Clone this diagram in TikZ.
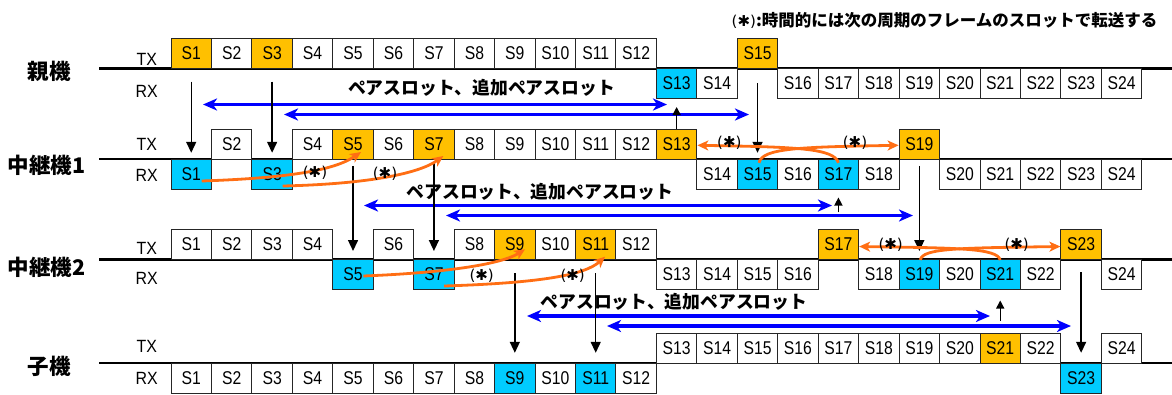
\documentclass[tikz,border=0pt]{standalone}
\usepackage{fontspec}
\setmainfont{Liberation Sans}
\newfontfamily\slotfont{Liberation Sans}[FakeStretch=0.85]
\newfontfamily\trxfont{Liberation Sans}[FakeStretch=0.9]
\newfontfamily\jpfont{Noto Sans CJK JP}
\newfontfamily\djvfont{DejaVu Sans}
\usetikzlibrary{arrows.meta}
\definecolor{gold}{RGB}{255,192,0}
\definecolor{sky}{RGB}{0,204,255}
\definecolor{orng}{RGB}{255,110,20}
\definecolor{pblue}{RGB}{0,0,255}
\tikzset{
  slot/.style={draw=black!85, line width=1pt, minimum width=40.45pt, minimum height=30pt, inner sep=0pt, font=\slotfont\fontsize{18.5}{19}\selectfont},
  base/.style={draw=black, line width=2.2pt},
  trx/.style={inner sep=0pt, font=\trxfont\fontsize{17.7}{18}\selectfont},
  rowlab/.style={inner sep=0pt, font=\jpfont\bfseries\fontsize{21.5}{24}\selectfont},
  pairlab/.style={inner sep=0pt, font=\jpfont\bfseries\fontsize{17.8}{20}\selectfont},
  ast/.style={inner sep=0pt, font=\djvfont\fontsize{15}{16}\selectfont},
  down/.style={draw=black, line width=1.4pt, -{Triangle[length=11pt,width=10pt]}},
  upar/.style={draw=black, line width=1.4pt, -{Triangle[length=8pt,width=8pt]}},
  pair/.style={draw=pblue, line width=3.5pt, {Stealth[length=14pt,width=12pt,inset=4pt]}-{Stealth[length=14pt,width=12pt,inset=4pt]}},
  fwd/.style={draw=orng, line width=2.8pt, -{Stealth[length=11pt,width=10pt,inset=3pt]}},
}
\begin{document}
\begin{tikzpicture}[x=1pt,y=-1pt]
\useasboundingbox (0,0) rectangle (1172,394);

% baselines
\draw[base] (99,68.5) -- (1172,68.5);
\draw[base] (99,159.3) -- (1172,159.3);
\draw[base] (99,259.5) -- (1172,259.5);
\draw[base] (99,363.3) -- (1172,363.3);

% row labels
\node[rowlab] (lab-a) at (49.3,71.7) {親機};
\node[rowlab] (lab-b) at (46.5,165) {中継機1};
\node[rowlab] (lab-c) at (46.5,267.3) {中継機2};
\node[rowlab] (lab-d) at (49.3,366.5) {子機};

\node[trx] (tx-a) at (146.7,59.3) {TX};
\node[trx] (rx-a) at (146.7,91.7) {RX};
\node[trx] (tx-b) at (146.7,144.3) {TX};
\node[trx] (rx-b) at (146.7,175) {RX};
\node[trx] (tx-c) at (146.7,248.3) {TX};
\node[trx] (rx-c) at (146.7,278.3) {RX};
\node[trx] (tx-d) at (146.7,346.7) {TX};
\node[trx] (rx-d) at (146.7,378.3) {RX};

% 親機
\foreach \n/\f in {1/gold,2/white,3/gold,4/white,5/white,6/white,7/white,8/white,9/white,10/white,11/white,12/white,15/gold}
  \node[slot,fill=\f] (a-tx-\n) at ({171+(\n-0.5)*40.45},53.5) {S\n};
\foreach \n/\f in {13/sky,14/white,16/white,17/white,18/white,19/white,20/white,21/white,22/white,23/white,24/white}
  \node[slot,fill=\f] (a-rx-\n) at ({171+(\n-0.5)*40.45},83.5) {S\n};
% 中継機1
\foreach \n/\f in {2/white,4/white,5/gold,6/white,7/gold,8/white,9/white,10/white,11/white,12/white,13/gold,19/gold}
  \node[slot,fill=\f] (b-tx-\n) at ({171+(\n-0.5)*40.45},144.3) {S\n};
\foreach \n/\f in {1/sky,3/sky,14/white,15/sky,16/white,17/sky,18/white,20/white,21/white,22/white,23/white,24/white}
  \node[slot,fill=\f] (b-rx-\n) at ({171+(\n-0.5)*40.45},174.3) {S\n};
% 中継機2
\foreach \n/\f in {1/white,2/white,3/white,4/white,6/white,8/white,9/gold,10/white,11/gold,12/white,17/gold,23/gold}
  \node[slot,fill=\f] (c-tx-\n) at ({171+(\n-0.5)*40.45},244.5) {S\n};
\foreach \n/\f in {5/sky,7/sky,13/white,14/white,15/white,16/white,18/white,19/sky,20/white,21/sky,22/white,24/white}
  \node[slot,fill=\f] (c-rx-\n) at ({171+(\n-0.5)*40.45},274.5) {S\n};
% 子機
\foreach \n/\f in {13/white,14/white,15/white,16/white,17/white,18/white,19/white,20/white,21/gold,22/white,24/white}
  \node[slot,fill=\f] (d-tx-\n) at ({171+(\n-0.5)*40.45},348.3) {S\n};
\foreach \n/\f in {1/white,2/white,3/white,4/white,5/white,6/white,7/white,8/white,9/sky,10/white,11/sky,12/white,23/sky}
  \node[slot,fill=\f] (d-rx-\n) at ({171+(\n-0.5)*40.45},378.3) {S\n};

% top note
\node[inner sep=0pt, anchor=east] (note) at (1157.5,20) {{\djvfont\fontsize{15}{16}\selectfont(✱)}{\jpfont\bfseries\fontsize{16.5}{18}\selectfont :時間的には次の周期のフレームのスロットで転送する}};

% pair slot labels
\node[pairlab] (pl-1) at (481.5,88.3) {ペアスロット、追加ペアスロット};
\node[pairlab] (pl-2) at (540,191.7) {ペアスロット、追加ペアスロット};
\node[pairlab] (pl-3) at (674,302) {ペアスロット、追加ペアスロット};

% blue pair arrows
\coordinate (p1a) at (203,104.5);  \coordinate (p1b) at (667,104.5);
\coordinate (p2a) at (284,114.5);  \coordinate (p2b) at (749,114.5);
\coordinate (p3a) at (364,205.5);  \coordinate (p3b) at (832,205.5);
\coordinate (p4a) at (446,215.5);  \coordinate (p4b) at (913,215.5);
\coordinate (p5a) at (527,316);    \coordinate (p5b) at (990,316);
\coordinate (p6a) at (607,326);    \coordinate (p6b) at (1071,326);
\draw[pair] (p1a) -- (p1b);
\draw[pair] (p2a) -- (p2b);
\draw[pair] (p3a) -- (p3b);
\draw[pair] (p4a) -- (p4b);
\draw[pair] (p5a) -- (p5b);
\draw[pair] (p6a) -- (p6b);

% black down arrows
\draw[down] ([yshift=-12.5pt]a-tx-1.south) -- ([yshift=6pt]b-rx-1.north);
\draw[down] ([yshift=-12.5pt]a-tx-3.south) -- ([yshift=6pt]b-rx-3.north);
\draw[down] ([yshift=-14pt]a-tx-15.south) -- ([yshift=6pt]b-rx-15.north);
\draw[down] ([yshift=-6pt]b-tx-5.south) -- ([yshift=8pt]c-rx-5.north);
\draw[down] ([yshift=-3pt]b-tx-7.south) -- ([yshift=8pt]c-rx-7.north);
\draw[down] ([yshift=-6pt]b-tx-19.south) -- ([yshift=8pt]c-rx-19.north);
\draw[down] ([yshift=-13pt]c-tx-9.south) -- ([yshift=10pt]d-rx-9.north);
\draw[down] ([yshift=-13pt]c-tx-11.south) -- ([yshift=10pt]d-rx-11.north);
\draw[down] ([yshift=-12pt]c-tx-23.south) -- ([yshift=10pt]d-rx-23.north);

% black up arrows
\draw[upar] (b-tx-13.north) -- ([yshift=-8pt]a-rx-13.south);
\draw[upar] ([yshift=16.7pt]c-tx-17.north) -- ([yshift=-7.7pt]b-rx-17.south);
\draw[upar] ([yshift=11.6pt]d-tx-21.north) -- ([yshift=-10.5pt]c-rx-21.south);

% orange forwarding curves, 中継機1
\draw[fwd] ([xshift=10.5pt,yshift=-6.7pt]b-rx-1.center) .. controls (290,178) and (335,170) .. ([xshift=8pt,yshift=-7.7pt]b-tx-5.center);
\draw[fwd] ([xshift=10.6pt,yshift=-11.7pt]b-rx-3.center) .. controls (370,184) and (420,173) .. ([xshift=9.4pt,yshift=-11.7pt]b-tx-7.center);
\draw[fwd] ([xshift=1.5pt,yshift=-4pt]b-rx-15.north) .. controls (762,148) and (800,147) .. ([yshift=-1pt]b-tx-19.west);
\draw[fwd] ([yshift=-4pt]b-rx-17.north) .. controls (834,148) and (796,147) .. ([yshift=-1pt]b-tx-13.east);
% 中継機2
\draw[fwd] ([xshift=10.3pt,yshift=-1.5pt]c-rx-5.center) .. controls (440,273) and (500,265) .. ([xshift=10.2pt,yshift=-4.8pt]c-tx-9.center);
\draw[fwd] ([xshift=10.1pt,yshift=-11.5pt]c-rx-7.center) .. controls (540,283) and (585,275) .. ([xshift=9.3pt,yshift=-12.2pt]c-tx-11.center);
\draw[fwd] ([xshift=1pt,yshift=-1pt]c-rx-19.north) .. controls (922,248) and (960,248) .. ([yshift=-2pt]c-tx-23.west);
\draw[fwd] ([yshift=-1pt]c-rx-21.north) .. controls (997,248) and (958,248) .. ([yshift=-2pt]c-tx-17.east);

% (*) marks
\node[ast] (m1) at (315,173) {(✱)};
\node[ast] (m2) at (385,173.3) {(✱)};
\node[ast] (m3) at (729.3,142.7) {(✱)};
\node[ast] (m4) at (855,142.7) {(✱)};
\node[ast] (m5) at (481.7,275.7) {(✱)};
\node[ast] (m6) at (572.7,275.7) {(✱)};
\node[ast] (m7) at (890.7,245) {(✱)};
\node[ast] (m8) at (1016.7,245) {(✱)};
\end{tikzpicture}
\end{document}
